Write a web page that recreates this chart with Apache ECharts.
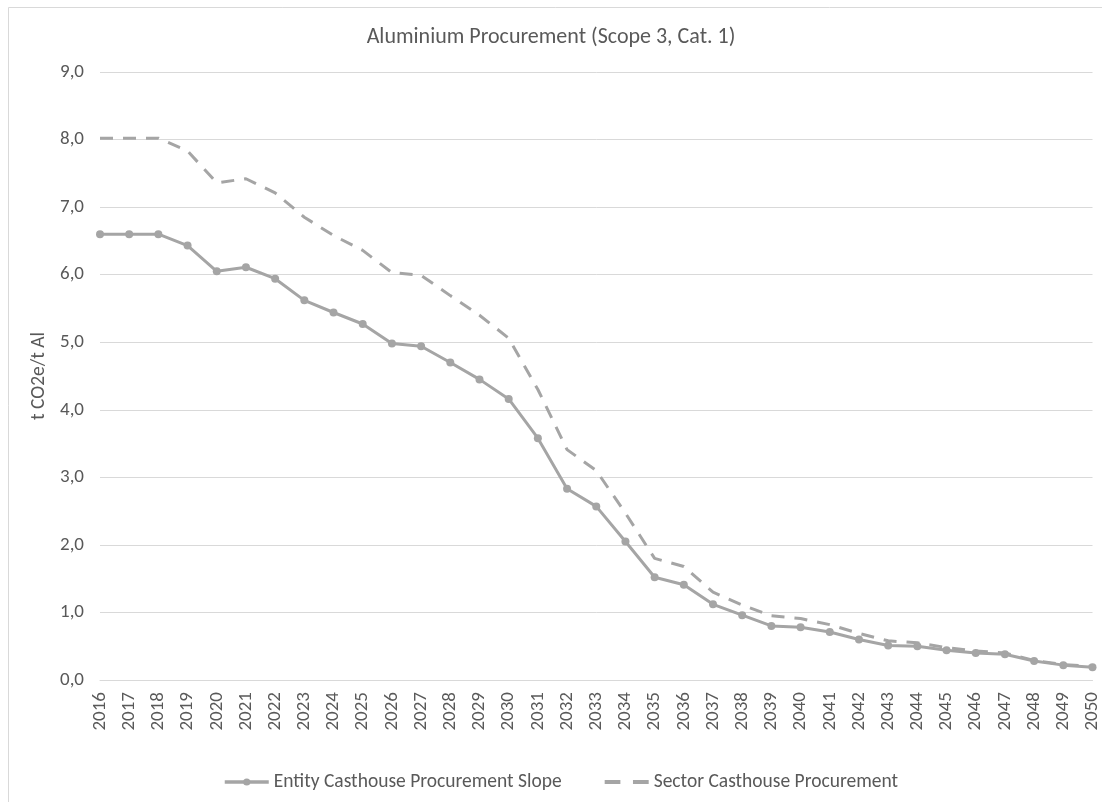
<!DOCTYPE html>
<html>
<head>
<meta charset="utf-8">
<script src="https://cdn.jsdelivr.net/npm/echarts@6/dist/echarts.min.js"></script>
<style>
html,body{margin:0;padding:0;background:#fff;}
#chart{width:1102px;height:802px;}
</style>
</head>
<body>
<div id="chart"></div>
<script>
const years = ['2016','2017','2018','2019','2020','2021','2022','2023','2024','2025','2026','2027','2028','2029','2030','2031','2032','2033','2034','2035','2036','2037','2038','2039','2040','2041','2042','2043','2044','2045','2046','2047','2048','2049','2050'];
const entitySlope = [6.60,6.60,6.60,6.43,6.05,6.11,5.94,5.62,5.44,5.27,4.98,4.94,4.70,4.45,4.16,3.58,2.83,2.57,2.05,1.52,1.41,1.12,0.96,0.80,0.78,0.71,0.60,0.51,0.50,0.44,0.40,0.38,0.28,0.22,0.19];
const sectorProcurement = [8.02,8.02,8.02,7.83,7.36,7.42,7.21,6.85,6.58,6.36,6.03,5.99,5.69,5.40,5.06,4.30,3.41,3.10,2.47,1.80,1.68,1.30,1.11,0.95,0.91,0.82,0.69,0.58,0.55,0.48,0.43,0.40,0.29,0.23,0.20];
const seriesNames = ['Entity Casthouse Procurement Slope','Sector Casthouse Procurement'];
const titleText = 'Aluminium Procurement (Scope 3, Cat. 1)';
const yAxisName = 't CO2e/t Al';

const FONT = 'Carlito, Lato, sans-serif';
const TXT = '#595959';
const GRAY = '#a5a5a5';

const chart = echarts.init(document.getElementById('chart'), null, {renderer:'canvas'});
chart.setOption({
  animation: false,
  backgroundColor: '#ffffff',
  textStyle: {fontFamily: FONT},
  graphic: [{
    type: 'rect',
    shape: {x: 8.5, y: 7.5, width: 1200, height: 900},
    style: {fill: 'none', stroke: '#d9d9d9', lineWidth: 1},
    silent: true,
    z: -1
  }],
  title: {
    text: titleText,
    left: 'center',
    top: 21,
    textStyle: {fontFamily: FONT, fontSize: 22, fontWeight: 'normal', color: TXT}
  },
  legend: {
    data: [
      {name: seriesNames[0], lineStyle: {width: 3.5}},
      {name: seriesNames[1], icon: 'path://M0,0h15v4h-15z M27,0h15v4h-15z', itemStyle: {color: GRAY, borderWidth: 0}}
    ],
    top: 772,
    left: 223,
    padding: 0,
    itemWidth: 44,
    itemHeight: 9,
    itemGap: 43,
    textStyle: {fontFamily: FONT, fontSize: 19.5, color: TXT}
  },
  grid: {left: 100, right: 2, top: 72, bottom: 122, containLabel: false},
  xAxis: {
    type: 'category',
    data: years,
    boundaryGap: false,
    axisLine: {show: true, lineStyle: {color: '#d9d9d9', width: 1}},
    axisTick: {show: false},
    axisLabel: {rotate: 90, margin: 12, fontFamily: FONT, fontSize: 19, color: TXT, interval: 0},
    splitLine: {show: false}
  },
  yAxis: {
    type: 'value',
    min: 0,
    max: 9,
    interval: 1,
    name: yAxisName,
    nameLocation: 'middle',
    nameGap: 42,
    nameRotate: 90,
    nameTextStyle: {fontFamily: FONT, fontSize: 19.5, color: TXT},
    axisLine: {show: false},
    axisTick: {show: false},
    axisLabel: {margin: 16, fontFamily: FONT, fontSize: 19, color: TXT,
      formatter: v => v.toFixed(1).replace('.', ',')},
    splitLine: {show: true, lineStyle: {color: '#d9d9d9', width: 1}}
  },
  series: [
    {
      name: seriesNames[1],
      type: 'line',
      data: sectorProcurement,
      showSymbol: false,
      symbol: 'none',
      lineStyle: {color: GRAY, width: 3, type: [13, 10]},
      itemStyle: {color: GRAY},
      z: 2
    },
    {
      name: seriesNames[0],
      type: 'line',
      data: entitySlope,
      symbol: 'circle',
      symbolSize: 8,
      lineStyle: {color: GRAY, width: 3},
      itemStyle: {color: GRAY},
      z: 3
    }
  ]
});
</script>
</body>
</html>
